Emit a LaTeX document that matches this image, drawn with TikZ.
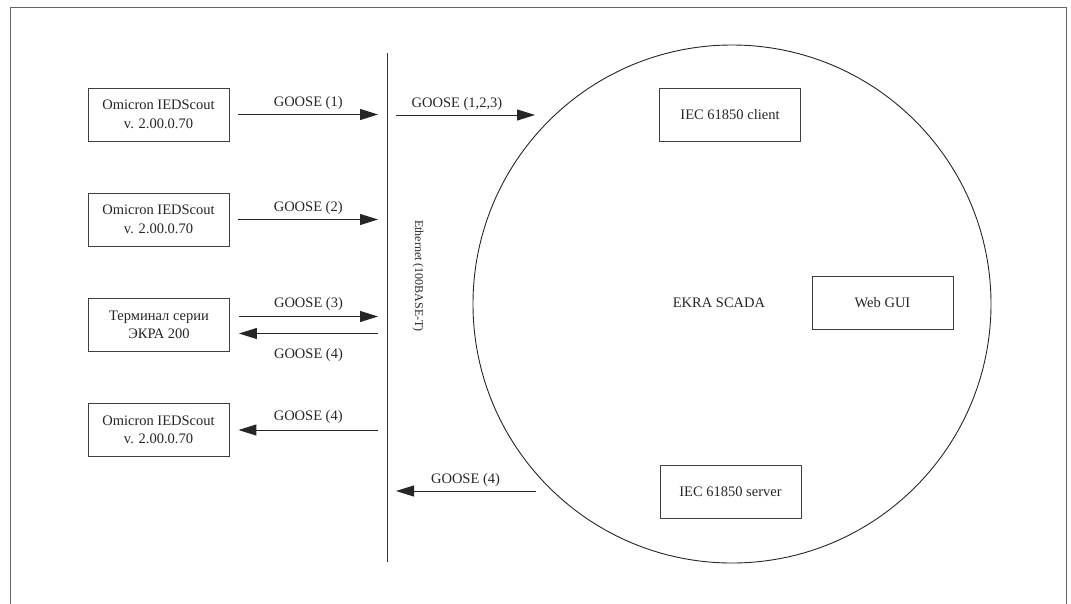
\documentclass[tikz,border=0pt]{standalone}
\usepackage{fontspec}
\setmainfont{Liberation Serif}
\usetikzlibrary{arrows.meta}
\begin{document}
\begin{tikzpicture}[x=1pt,y=-1pt,
  every node/.style={font=\fontsize{14.5}{18.5}\selectfont, text=black!85},
  box/.style={draw=black!75, line width=0.9pt, minimum width=141pt, minimum height=53pt, inner sep=0pt, align=center},
  arr/.style={draw=black!85, line width=1pt, -{Triangle[length=18pt,width=11pt]}},
  wire/.style={draw=black!80, line width=1pt}]
\useasboundingbox (0,0) rectangle (1071,603);
\draw[black!60, line width=1pt] (10,7) rectangle (1066,650);
% Ethernet bus
\coordinate (ethtop) at (387,53);
\coordinate (ethbot) at (387,562);
\draw[wire] (ethtop) -- (ethbot);
\node[rotate=-90, font=\fontsize{12}{14}\selectfont] (ethlbl) at (418,276) {Ethernet (100BASE-T)};
% left devices
\node[box] (b1) at (158.5,114.5) {Omicron IEDScout\\v. 2.00.0.70};
\node[box] (b2) at (158.5,219.5) {Omicron IEDScout\\v. 2.00.0.70};
\node[box] (b3) at (159,325) {Терминал серии\\ЭКРА 200};
\node[box] (b4) at (158.5,430) {Omicron IEDScout\\v. 2.00.0.70};
% SCADA
\node[draw=black!85, line width=0.9pt, circle, minimum size=518pt, inner sep=0pt] (scada) at (732,304) {};
\node (scadalbl) at (719,303) {EKRA SCADA};
\node[box] (client) at (730,114.5) {IEC 61850 client};
\node[box] (web) at (882.5,302.5) {Web GUI};
\node[box] (server) at (730.5,491.5) {IEC 61850 server};
% arrows left
\draw[arr, shorten <=9pt, shorten >=9pt] (b1.east) -- (b1.east -| ethtop)
  node[midway, yshift=11pt] {GOOSE (1)};
\draw[arr, shorten <=9pt, shorten >=9pt] (b2.east) -- (b2.east -| ethtop)
  node[midway, yshift=11pt] {GOOSE (2)};
\draw[arr, shorten <=9pt, shorten >=9pt] ([yshift=8.5pt]b3.east) -- ([yshift=8.5pt]b3.east -| ethtop)
  node[midway, yshift=12pt] {GOOSE (3)};
\draw[arr, shorten <=9pt, shorten >=9pt] ([yshift=-8.5pt]b3.east -| ethtop) -- ([yshift=-8.5pt]b3.east)
  node[midway, yshift=-22pt] {GOOSE (4)};
\draw[arr, shorten <=9pt, shorten >=9pt] (b4.east -| ethtop) -- (b4.east)
  node[midway, yshift=13pt] {GOOSE (4)};
% arrows right
\coordinate (c1) at (535,115);
\coordinate (c4) at (536,491);
\draw[arr, shorten <=9pt] (c1 -| ethtop) -- (c1)
  node[midway, xshift=-4pt, yshift=11pt] {GOOSE (1,2,3)};
\draw[arr, shorten >=9pt] (c4) -- (c4 -| ethtop)
  node[midway, xshift=4pt, yshift=11pt] {GOOSE (4)};
\end{tikzpicture}
\end{document}
